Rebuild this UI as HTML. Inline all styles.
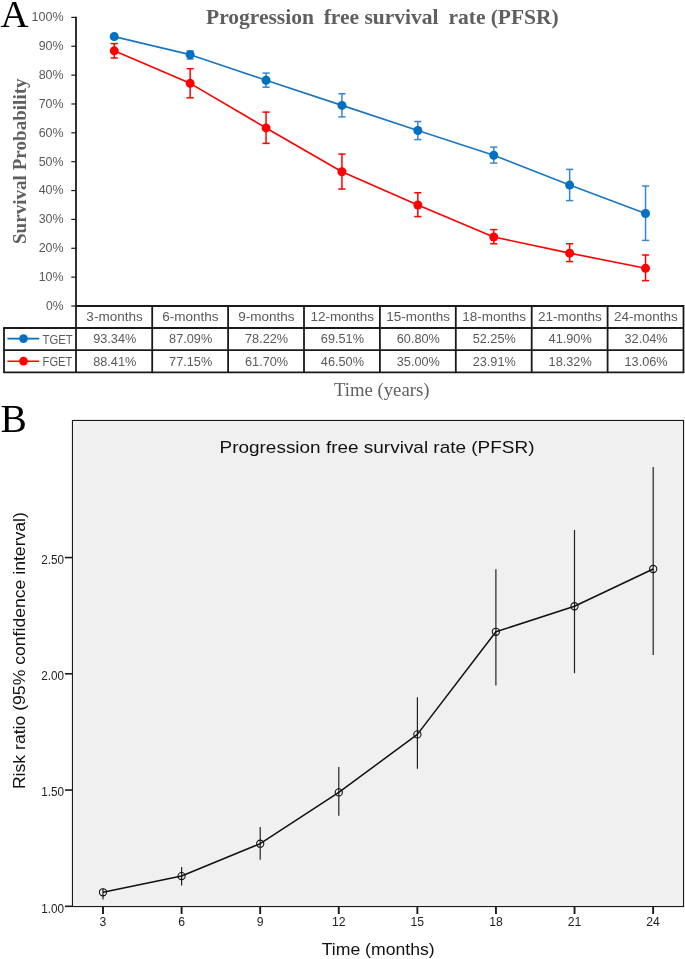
<!DOCTYPE html>
<html><head><meta charset="utf-8"><style>
html,body{margin:0;padding:0;background:#fff;}
body{width:685px;height:959px;overflow:hidden;font-family:"Liberation Sans",sans-serif;}
svg{display:block;will-change:transform;}
</style></head><body>
<svg width="685" height="959" viewBox="0 0 685 959">
<text x="0.5" y="27" font-family="Liberation Serif" font-size="38.8" fill="#000">A</text>
<text x="0.5" y="431.8" font-family="Liberation Serif" font-size="39.5" fill="#000">B</text>
<text y="24" font-family="Liberation Serif" font-weight="bold" font-size="21.5" fill="#5f5f5f"><tspan x="206">Progression</tspan><tspan x="323.7">free</tspan><tspan x="364.4">survival</tspan><tspan x="448.5">rate</tspan><tspan x="490.7">(PFSR)</tspan></text>
<text transform="translate(25.8,161.2) rotate(-90)" text-anchor="middle" font-family="Liberation Serif" font-weight="bold" font-size="19.1" fill="#5f5f5f">Survival Probability</text>
<text x="63.6" y="309.80" text-anchor="end" font-family="Liberation Sans" font-size="12.6" fill="#595959" textLength="17.60" lengthAdjust="spacingAndGlyphs">0%</text>
<line x1="71.3" y1="306.00" x2="76" y2="306.00" stroke="#1a1a1a" stroke-width="1.2"/>
<text x="63.6" y="280.94" text-anchor="end" font-family="Liberation Sans" font-size="12.6" fill="#595959" textLength="24.90" lengthAdjust="spacingAndGlyphs">10%</text>
<line x1="71.3" y1="277.14" x2="76" y2="277.14" stroke="#1a1a1a" stroke-width="1.2"/>
<text x="63.6" y="252.08" text-anchor="end" font-family="Liberation Sans" font-size="12.6" fill="#595959" textLength="24.90" lengthAdjust="spacingAndGlyphs">20%</text>
<line x1="71.3" y1="248.28" x2="76" y2="248.28" stroke="#1a1a1a" stroke-width="1.2"/>
<text x="63.6" y="223.22" text-anchor="end" font-family="Liberation Sans" font-size="12.6" fill="#595959" textLength="24.90" lengthAdjust="spacingAndGlyphs">30%</text>
<line x1="71.3" y1="219.42" x2="76" y2="219.42" stroke="#1a1a1a" stroke-width="1.2"/>
<text x="63.6" y="194.36" text-anchor="end" font-family="Liberation Sans" font-size="12.6" fill="#595959" textLength="24.90" lengthAdjust="spacingAndGlyphs">40%</text>
<line x1="71.3" y1="190.56" x2="76" y2="190.56" stroke="#1a1a1a" stroke-width="1.2"/>
<text x="63.6" y="165.50" text-anchor="end" font-family="Liberation Sans" font-size="12.6" fill="#595959" textLength="24.90" lengthAdjust="spacingAndGlyphs">50%</text>
<line x1="71.3" y1="161.70" x2="76" y2="161.70" stroke="#1a1a1a" stroke-width="1.2"/>
<text x="63.6" y="136.64" text-anchor="end" font-family="Liberation Sans" font-size="12.6" fill="#595959" textLength="24.90" lengthAdjust="spacingAndGlyphs">60%</text>
<line x1="71.3" y1="132.84" x2="76" y2="132.84" stroke="#1a1a1a" stroke-width="1.2"/>
<text x="63.6" y="107.78" text-anchor="end" font-family="Liberation Sans" font-size="12.6" fill="#595959" textLength="24.90" lengthAdjust="spacingAndGlyphs">70%</text>
<line x1="71.3" y1="103.98" x2="76" y2="103.98" stroke="#1a1a1a" stroke-width="1.2"/>
<text x="63.6" y="78.92" text-anchor="end" font-family="Liberation Sans" font-size="12.6" fill="#595959" textLength="24.90" lengthAdjust="spacingAndGlyphs">80%</text>
<line x1="71.3" y1="75.12" x2="76" y2="75.12" stroke="#1a1a1a" stroke-width="1.2"/>
<text x="63.6" y="50.06" text-anchor="end" font-family="Liberation Sans" font-size="12.6" fill="#595959" textLength="24.90" lengthAdjust="spacingAndGlyphs">90%</text>
<line x1="71.3" y1="46.26" x2="76" y2="46.26" stroke="#1a1a1a" stroke-width="1.2"/>
<text x="63.6" y="21.20" text-anchor="end" font-family="Liberation Sans" font-size="12.6" fill="#595959" textLength="32.20" lengthAdjust="spacingAndGlyphs">100%</text>
<line x1="71.3" y1="17.40" x2="76" y2="17.40" stroke="#1a1a1a" stroke-width="1.2"/>
<line x1="76" y1="16.8" x2="76" y2="373" stroke="#1a1a1a" stroke-width="1.8"/>
<line x1="75" y1="306" x2="684" y2="306" stroke="#1a1a1a" stroke-width="1.8"/>
<line x1="3.5" y1="328" x2="684" y2="328" stroke="#1a1a1a" stroke-width="1.8"/>
<line x1="3.5" y1="350.1" x2="684" y2="350.1" stroke="#1a1a1a" stroke-width="1.8"/>
<line x1="3.5" y1="372.3" x2="684" y2="372.3" stroke="#1a1a1a" stroke-width="1.8"/>
<line x1="4" y1="327.2" x2="4" y2="373.1" stroke="#1a1a1a" stroke-width="1.8"/>
<line x1="152.20" y1="305.2" x2="152.20" y2="373.1" stroke="#1a1a1a" stroke-width="1.8"/>
<line x1="228.10" y1="305.2" x2="228.10" y2="373.1" stroke="#1a1a1a" stroke-width="1.8"/>
<line x1="304.00" y1="305.2" x2="304.00" y2="373.1" stroke="#1a1a1a" stroke-width="1.8"/>
<line x1="379.90" y1="305.2" x2="379.90" y2="373.1" stroke="#1a1a1a" stroke-width="1.8"/>
<line x1="455.80" y1="305.2" x2="455.80" y2="373.1" stroke="#1a1a1a" stroke-width="1.8"/>
<line x1="531.70" y1="305.2" x2="531.70" y2="373.1" stroke="#1a1a1a" stroke-width="1.8"/>
<line x1="607.60" y1="305.2" x2="607.60" y2="373.1" stroke="#1a1a1a" stroke-width="1.8"/>
<line x1="683.50" y1="305.2" x2="683.50" y2="373.1" stroke="#1a1a1a" stroke-width="1.8"/>
<text x="114.55" y="321.3" text-anchor="middle" font-family="Liberation Sans" font-size="12.6" fill="#595959" textLength="56.38" lengthAdjust="spacingAndGlyphs">3-months</text>
<text x="114.75" y="343.2" text-anchor="middle" font-family="Liberation Sans" font-size="12.6" fill="#595959" textLength="43.13" lengthAdjust="spacingAndGlyphs">93.34%</text>
<text x="114.75" y="365.5" text-anchor="middle" font-family="Liberation Sans" font-size="12.6" fill="#595959" textLength="43.13" lengthAdjust="spacingAndGlyphs">88.41%</text>
<text x="190.45" y="321.3" text-anchor="middle" font-family="Liberation Sans" font-size="12.6" fill="#595959" textLength="56.38" lengthAdjust="spacingAndGlyphs">6-months</text>
<text x="190.65" y="343.2" text-anchor="middle" font-family="Liberation Sans" font-size="12.6" fill="#595959" textLength="43.13" lengthAdjust="spacingAndGlyphs">87.09%</text>
<text x="190.65" y="365.5" text-anchor="middle" font-family="Liberation Sans" font-size="12.6" fill="#595959" textLength="43.13" lengthAdjust="spacingAndGlyphs">77.15%</text>
<text x="266.35" y="321.3" text-anchor="middle" font-family="Liberation Sans" font-size="12.6" fill="#595959" textLength="56.38" lengthAdjust="spacingAndGlyphs">9-months</text>
<text x="266.55" y="343.2" text-anchor="middle" font-family="Liberation Sans" font-size="12.6" fill="#595959" textLength="43.13" lengthAdjust="spacingAndGlyphs">78.22%</text>
<text x="266.55" y="365.5" text-anchor="middle" font-family="Liberation Sans" font-size="12.6" fill="#595959" textLength="43.13" lengthAdjust="spacingAndGlyphs">61.70%</text>
<text x="342.25" y="321.3" text-anchor="middle" font-family="Liberation Sans" font-size="12.6" fill="#595959" textLength="63.68" lengthAdjust="spacingAndGlyphs">12-months</text>
<text x="342.45" y="343.2" text-anchor="middle" font-family="Liberation Sans" font-size="12.6" fill="#595959" textLength="43.13" lengthAdjust="spacingAndGlyphs">69.51%</text>
<text x="342.45" y="365.5" text-anchor="middle" font-family="Liberation Sans" font-size="12.6" fill="#595959" textLength="43.13" lengthAdjust="spacingAndGlyphs">46.50%</text>
<text x="418.15" y="321.3" text-anchor="middle" font-family="Liberation Sans" font-size="12.6" fill="#595959" textLength="63.68" lengthAdjust="spacingAndGlyphs">15-months</text>
<text x="418.35" y="343.2" text-anchor="middle" font-family="Liberation Sans" font-size="12.6" fill="#595959" textLength="43.13" lengthAdjust="spacingAndGlyphs">60.80%</text>
<text x="418.35" y="365.5" text-anchor="middle" font-family="Liberation Sans" font-size="12.6" fill="#595959" textLength="43.13" lengthAdjust="spacingAndGlyphs">35.00%</text>
<text x="494.05" y="321.3" text-anchor="middle" font-family="Liberation Sans" font-size="12.6" fill="#595959" textLength="63.68" lengthAdjust="spacingAndGlyphs">18-months</text>
<text x="494.25" y="343.2" text-anchor="middle" font-family="Liberation Sans" font-size="12.6" fill="#595959" textLength="43.13" lengthAdjust="spacingAndGlyphs">52.25%</text>
<text x="494.25" y="365.5" text-anchor="middle" font-family="Liberation Sans" font-size="12.6" fill="#595959" textLength="43.13" lengthAdjust="spacingAndGlyphs">23.91%</text>
<text x="569.95" y="321.3" text-anchor="middle" font-family="Liberation Sans" font-size="12.6" fill="#595959" textLength="63.68" lengthAdjust="spacingAndGlyphs">21-months</text>
<text x="570.15" y="343.2" text-anchor="middle" font-family="Liberation Sans" font-size="12.6" fill="#595959" textLength="43.13" lengthAdjust="spacingAndGlyphs">41.90%</text>
<text x="570.15" y="365.5" text-anchor="middle" font-family="Liberation Sans" font-size="12.6" fill="#595959" textLength="43.13" lengthAdjust="spacingAndGlyphs">18.32%</text>
<text x="645.85" y="321.3" text-anchor="middle" font-family="Liberation Sans" font-size="12.6" fill="#595959" textLength="63.68" lengthAdjust="spacingAndGlyphs">24-months</text>
<text x="646.05" y="343.2" text-anchor="middle" font-family="Liberation Sans" font-size="12.6" fill="#595959" textLength="43.13" lengthAdjust="spacingAndGlyphs">32.04%</text>
<text x="646.05" y="365.5" text-anchor="middle" font-family="Liberation Sans" font-size="12.6" fill="#595959" textLength="43.13" lengthAdjust="spacingAndGlyphs">13.06%</text>
<line x1="7.4" y1="338.6" x2="39.2" y2="338.6" stroke="#0070C0" stroke-width="1.6"/>
<circle cx="23.5" cy="338.6" r="4.4" fill="#0070C0"/>
<line x1="7.4" y1="361.2" x2="39.2" y2="361.2" stroke="#FF0000" stroke-width="1.6"/>
<circle cx="23.5" cy="361.2" r="4.4" fill="#FF0000"/>
<text x="42.6" y="343.5" font-family="Liberation Sans" font-size="12.6" fill="#595959" textLength="30.14" lengthAdjust="spacingAndGlyphs">TGET</text>
<text x="42.6" y="365.8" font-family="Liberation Sans" font-size="12.6" fill="#595959" textLength="29.74" lengthAdjust="spacingAndGlyphs">FGET</text>
<text x="334.1" y="395.7" font-family="Liberation Serif" font-size="18.7" fill="#5f5f5f">Time (years)</text>
<polyline points="114.25,36.62 190.15,54.66 266.05,80.26 341.95,105.39 417.85,130.53 493.75,155.21 569.65,185.08 645.55,213.53" fill="none" stroke="#1a76c5" stroke-width="1.65" stroke-linejoin="round"/>
<line x1="114.25" y1="34.50" x2="114.25" y2="38.50" stroke="#3a86cc" stroke-width="1.5"/>
<line x1="110.65" y1="34.50" x2="117.85" y2="34.50" stroke="#3a86cc" stroke-width="1.5"/>
<line x1="110.65" y1="38.50" x2="117.85" y2="38.50" stroke="#3a86cc" stroke-width="1.5"/>
<line x1="190.15" y1="51.00" x2="190.15" y2="59.00" stroke="#3a86cc" stroke-width="1.5"/>
<line x1="186.55" y1="51.00" x2="193.75" y2="51.00" stroke="#3a86cc" stroke-width="1.5"/>
<line x1="186.55" y1="59.00" x2="193.75" y2="59.00" stroke="#3a86cc" stroke-width="1.5"/>
<line x1="266.05" y1="73.10" x2="266.05" y2="87.20" stroke="#3a86cc" stroke-width="1.5"/>
<line x1="262.45" y1="73.10" x2="269.65" y2="73.10" stroke="#3a86cc" stroke-width="1.5"/>
<line x1="262.45" y1="87.20" x2="269.65" y2="87.20" stroke="#3a86cc" stroke-width="1.5"/>
<line x1="341.95" y1="93.75" x2="341.95" y2="116.90" stroke="#3a86cc" stroke-width="1.5"/>
<line x1="338.35" y1="93.75" x2="345.55" y2="93.75" stroke="#3a86cc" stroke-width="1.5"/>
<line x1="338.35" y1="116.90" x2="345.55" y2="116.90" stroke="#3a86cc" stroke-width="1.5"/>
<line x1="417.85" y1="121.50" x2="417.85" y2="139.60" stroke="#3a86cc" stroke-width="1.5"/>
<line x1="414.25" y1="121.50" x2="421.45" y2="121.50" stroke="#3a86cc" stroke-width="1.5"/>
<line x1="414.25" y1="139.60" x2="421.45" y2="139.60" stroke="#3a86cc" stroke-width="1.5"/>
<line x1="493.75" y1="147.10" x2="493.75" y2="163.10" stroke="#3a86cc" stroke-width="1.5"/>
<line x1="490.15" y1="147.10" x2="497.35" y2="147.10" stroke="#3a86cc" stroke-width="1.5"/>
<line x1="490.15" y1="163.10" x2="497.35" y2="163.10" stroke="#3a86cc" stroke-width="1.5"/>
<line x1="569.65" y1="169.40" x2="569.65" y2="200.60" stroke="#3a86cc" stroke-width="1.5"/>
<line x1="566.05" y1="169.40" x2="573.25" y2="169.40" stroke="#3a86cc" stroke-width="1.5"/>
<line x1="566.05" y1="200.60" x2="573.25" y2="200.60" stroke="#3a86cc" stroke-width="1.5"/>
<line x1="645.55" y1="186.00" x2="645.55" y2="240.40" stroke="#3a86cc" stroke-width="1.5"/>
<line x1="641.95" y1="186.00" x2="649.15" y2="186.00" stroke="#3a86cc" stroke-width="1.5"/>
<line x1="641.95" y1="240.40" x2="649.15" y2="240.40" stroke="#3a86cc" stroke-width="1.5"/>
<circle cx="114.25" cy="36.62" r="4.5" fill="#0070C0"/>
<circle cx="190.15" cy="54.66" r="4.5" fill="#0070C0"/>
<circle cx="266.05" cy="80.26" r="4.5" fill="#0070C0"/>
<circle cx="341.95" cy="105.39" r="4.5" fill="#0070C0"/>
<circle cx="417.85" cy="130.53" r="4.5" fill="#0070C0"/>
<circle cx="493.75" cy="155.21" r="4.5" fill="#0070C0"/>
<circle cx="569.65" cy="185.08" r="4.5" fill="#0070C0"/>
<circle cx="645.55" cy="213.53" r="4.5" fill="#0070C0"/>
<polyline points="114.25,50.85 190.15,83.35 266.05,127.93 341.95,171.80 417.85,204.99 493.75,237.00 569.65,253.13 645.55,268.31" fill="none" stroke="#FF0000" stroke-width="1.65" stroke-linejoin="round"/>
<line x1="114.25" y1="43.60" x2="114.25" y2="58.00" stroke="#FF0000" stroke-width="1.5"/>
<line x1="110.65" y1="43.60" x2="117.85" y2="43.60" stroke="#FF0000" stroke-width="1.5"/>
<line x1="110.65" y1="58.00" x2="117.85" y2="58.00" stroke="#FF0000" stroke-width="1.5"/>
<line x1="190.15" y1="68.70" x2="190.15" y2="97.80" stroke="#FF0000" stroke-width="1.5"/>
<line x1="186.55" y1="68.70" x2="193.75" y2="68.70" stroke="#FF0000" stroke-width="1.5"/>
<line x1="186.55" y1="97.80" x2="193.75" y2="97.80" stroke="#FF0000" stroke-width="1.5"/>
<line x1="266.05" y1="112.10" x2="266.05" y2="143.40" stroke="#FF0000" stroke-width="1.5"/>
<line x1="262.45" y1="112.10" x2="269.65" y2="112.10" stroke="#FF0000" stroke-width="1.5"/>
<line x1="262.45" y1="143.40" x2="269.65" y2="143.40" stroke="#FF0000" stroke-width="1.5"/>
<line x1="341.95" y1="154.10" x2="341.95" y2="189.10" stroke="#FF0000" stroke-width="1.5"/>
<line x1="338.35" y1="154.10" x2="345.55" y2="154.10" stroke="#FF0000" stroke-width="1.5"/>
<line x1="338.35" y1="189.10" x2="345.55" y2="189.10" stroke="#FF0000" stroke-width="1.5"/>
<line x1="417.85" y1="192.75" x2="417.85" y2="216.60" stroke="#FF0000" stroke-width="1.5"/>
<line x1="414.25" y1="192.75" x2="421.45" y2="192.75" stroke="#FF0000" stroke-width="1.5"/>
<line x1="414.25" y1="216.60" x2="421.45" y2="216.60" stroke="#FF0000" stroke-width="1.5"/>
<line x1="493.75" y1="229.60" x2="493.75" y2="243.75" stroke="#FF0000" stroke-width="1.5"/>
<line x1="490.15" y1="229.60" x2="497.35" y2="229.60" stroke="#FF0000" stroke-width="1.5"/>
<line x1="490.15" y1="243.75" x2="497.35" y2="243.75" stroke="#FF0000" stroke-width="1.5"/>
<line x1="569.65" y1="243.75" x2="569.65" y2="261.60" stroke="#FF0000" stroke-width="1.5"/>
<line x1="566.05" y1="243.75" x2="573.25" y2="243.75" stroke="#FF0000" stroke-width="1.5"/>
<line x1="566.05" y1="261.60" x2="573.25" y2="261.60" stroke="#FF0000" stroke-width="1.5"/>
<line x1="645.55" y1="255.00" x2="645.55" y2="280.60" stroke="#FF0000" stroke-width="1.5"/>
<line x1="641.95" y1="255.00" x2="649.15" y2="255.00" stroke="#FF0000" stroke-width="1.5"/>
<line x1="641.95" y1="280.60" x2="649.15" y2="280.60" stroke="#FF0000" stroke-width="1.5"/>
<circle cx="114.25" cy="50.85" r="4.5" fill="#FF0000"/>
<circle cx="190.15" cy="83.35" r="4.5" fill="#FF0000"/>
<circle cx="266.05" cy="127.93" r="4.5" fill="#FF0000"/>
<circle cx="341.95" cy="171.80" r="4.5" fill="#FF0000"/>
<circle cx="417.85" cy="204.99" r="4.5" fill="#FF0000"/>
<circle cx="493.75" cy="237.00" r="4.5" fill="#FF0000"/>
<circle cx="569.65" cy="253.13" r="4.5" fill="#FF0000"/>
<circle cx="645.55" cy="268.31" r="4.5" fill="#FF0000"/>
<rect x="72.5" y="420.5" width="611" height="486" fill="#F0F0F0" stroke="#1a1a1a" stroke-width="1.2"/>
<rect x="73.8" y="421.8" width="608.4" height="483.4" fill="none" stroke="#f8f8f8" stroke-width="1"/>
<line x1="65" y1="906.30" x2="72.5" y2="906.30" stroke="#1a1a1a" stroke-width="1.6"/>
<text x="64" y="913.00" text-anchor="end" font-family="Liberation Sans" font-size="12.2" fill="#222" textLength="22.8" lengthAdjust="spacingAndGlyphs">1.00</text>
<line x1="65" y1="790.05" x2="72.5" y2="790.05" stroke="#1a1a1a" stroke-width="1.6"/>
<text x="64" y="796.05" text-anchor="end" font-family="Liberation Sans" font-size="12.2" fill="#222" textLength="22.8" lengthAdjust="spacingAndGlyphs">1.50</text>
<line x1="65" y1="673.80" x2="72.5" y2="673.80" stroke="#1a1a1a" stroke-width="1.6"/>
<text x="64" y="679.75" text-anchor="end" font-family="Liberation Sans" font-size="12.2" fill="#222" textLength="22.8" lengthAdjust="spacingAndGlyphs">2.00</text>
<line x1="65" y1="557.55" x2="72.5" y2="557.55" stroke="#1a1a1a" stroke-width="1.6"/>
<text x="64" y="564.25" text-anchor="end" font-family="Liberation Sans" font-size="12.2" fill="#222" textLength="22.8" lengthAdjust="spacingAndGlyphs">2.50</text>
<line x1="103.00" y1="906.3" x2="103.00" y2="914" stroke="#1a1a1a" stroke-width="1.9"/>
<text x="103.00" y="926.2" text-anchor="middle" font-family="Liberation Sans" font-size="12.2" fill="#222">3</text>
<line x1="181.59" y1="906.3" x2="181.59" y2="914" stroke="#1a1a1a" stroke-width="1.9"/>
<text x="181.59" y="926.2" text-anchor="middle" font-family="Liberation Sans" font-size="12.2" fill="#222">6</text>
<line x1="260.18" y1="906.3" x2="260.18" y2="914" stroke="#1a1a1a" stroke-width="1.9"/>
<text x="260.18" y="926.2" text-anchor="middle" font-family="Liberation Sans" font-size="12.2" fill="#222">9</text>
<line x1="338.77" y1="906.3" x2="338.77" y2="914" stroke="#1a1a1a" stroke-width="1.9"/>
<text x="338.77" y="926.2" text-anchor="middle" font-family="Liberation Sans" font-size="12.2" fill="#222">12</text>
<line x1="417.36" y1="906.3" x2="417.36" y2="914" stroke="#1a1a1a" stroke-width="1.9"/>
<text x="417.36" y="926.2" text-anchor="middle" font-family="Liberation Sans" font-size="12.2" fill="#222">15</text>
<line x1="495.95" y1="906.3" x2="495.95" y2="914" stroke="#1a1a1a" stroke-width="1.9"/>
<text x="495.95" y="926.2" text-anchor="middle" font-family="Liberation Sans" font-size="12.2" fill="#222">18</text>
<line x1="574.54" y1="906.3" x2="574.54" y2="914" stroke="#1a1a1a" stroke-width="1.9"/>
<text x="574.54" y="926.2" text-anchor="middle" font-family="Liberation Sans" font-size="12.2" fill="#222">21</text>
<line x1="653.13" y1="906.3" x2="653.13" y2="914" stroke="#1a1a1a" stroke-width="1.9"/>
<text x="653.13" y="926.2" text-anchor="middle" font-family="Liberation Sans" font-size="12.2" fill="#222">24</text>
<text x="219.5" y="452.7" font-family="Liberation Sans" font-size="17" fill="#111" textLength="315" lengthAdjust="spacingAndGlyphs">Progression free survival rate (PFSR)</text>
<text x="321.7" y="954.7" font-family="Liberation Sans" font-size="16.4" fill="#111" textLength="113" lengthAdjust="spacingAndGlyphs">Time (months)</text>
<text transform="translate(25.2,789.1) rotate(-90)" font-family="Liberation Sans" font-size="16" fill="#111" textLength="277" lengthAdjust="spacingAndGlyphs">Risk ratio (95% confidence interval)</text>
<line x1="103" y1="888.5" x2="103" y2="899.5" stroke="#222" stroke-width="1.2"/>
<line x1="181.6" y1="867.1" x2="181.6" y2="885.5" stroke="#222" stroke-width="1.2"/>
<line x1="260.2" y1="827.1" x2="260.2" y2="859.8" stroke="#222" stroke-width="1.2"/>
<line x1="338.8" y1="767" x2="338.8" y2="815.7" stroke="#222" stroke-width="1.2"/>
<line x1="417.4" y1="697.2" x2="417.4" y2="768.8" stroke="#222" stroke-width="1.2"/>
<line x1="495.9" y1="569.2" x2="495.9" y2="685.5" stroke="#222" stroke-width="1.2"/>
<line x1="574.5" y1="530" x2="574.5" y2="673.25" stroke="#222" stroke-width="1.2"/>
<line x1="653.2" y1="467" x2="653.2" y2="655" stroke="#222" stroke-width="1.2"/>
<polyline points="103,892.3 181.6,876.06 260.2,843.7 338.8,792.4 417.4,734.4 495.9,631.8 574.5,606.25 653.2,569" fill="none" stroke="#111" stroke-width="1.5" stroke-linejoin="round"/>
<circle cx="103" cy="892.3" r="3.6" fill="none" stroke="#111" stroke-width="1.1"/>
<circle cx="181.6" cy="876.06" r="3.6" fill="none" stroke="#111" stroke-width="1.1"/>
<circle cx="260.2" cy="843.7" r="3.6" fill="none" stroke="#111" stroke-width="1.1"/>
<circle cx="338.8" cy="792.4" r="3.6" fill="none" stroke="#111" stroke-width="1.1"/>
<circle cx="417.4" cy="734.4" r="3.6" fill="none" stroke="#111" stroke-width="1.1"/>
<circle cx="495.9" cy="631.8" r="3.6" fill="none" stroke="#111" stroke-width="1.1"/>
<circle cx="574.5" cy="606.25" r="3.6" fill="none" stroke="#111" stroke-width="1.1"/>
<circle cx="653.2" cy="569" r="3.6" fill="none" stroke="#111" stroke-width="1.1"/>
</svg>
</body></html>
